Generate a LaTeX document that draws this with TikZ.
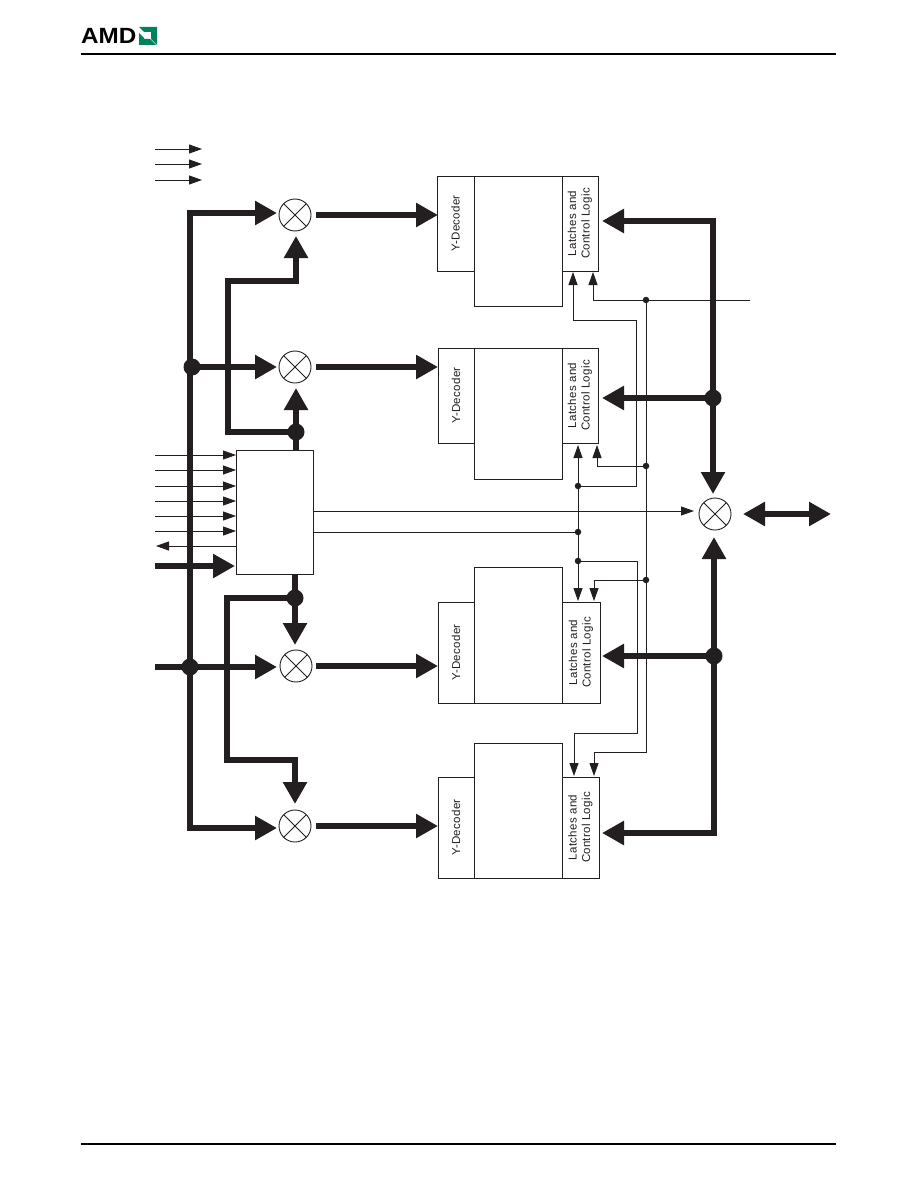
\documentclass[tikz,border=0pt]{standalone}
\usepackage{fontspec}
\setmainfont{Liberation Sans}
\newfontface\lblfont[LetterSpace=2.5]{Liberation Sans}
\usetikzlibrary{arrows.meta}
\definecolor{ink}{HTML}{231F20}
\definecolor{amdgreen}{HTML}{00835C}
\tikzset{
  x=1pt,y=-1pt,
  blk/.style={draw=ink,line width=.9pt,inner sep=0pt,outer sep=0pt,anchor=north west,fill=none},
  lbl/.style={rotate=90,font=\lblfont\fontsize{11.5}{13.5}\selectfont,text=ink,align=center,inner sep=0pt},
  mux/.style={circle,draw=ink,line width=.9pt,minimum size=32pt,inner sep=0pt,outer sep=0pt},
  bus/.style={draw=ink,line width=6pt,line cap=butt,line join=miter},
  busar/.style={bus,-{Triangle[length=22pt,width=23pt]}},
  busbi/.style={bus,{Triangle[length=22pt,width=23pt]}-{Triangle[length=22pt,width=23pt]}},
  wire/.style={draw=ink,line width=.9pt},
  wirear/.style={wire,-{Triangle[length=13pt,width=9pt]}},
  bigdot/.style={circle,fill=ink,minimum size=17pt,inner sep=0pt,outer sep=0pt},
  dot/.style={circle,fill=ink,minimum size=6.5pt,inner sep=0pt,outer sep=0pt},
  rule/.style={draw=black,line width=2pt},
}
\begin{document}
\begin{tikzpicture}
\useasboundingbox[fill=white] (0,0) rectangle (918,1188);
% header / footer
\coordinate (hl) at (81,54); \coordinate (hr) at (836,54);
\coordinate (fl) at (81,1144); \coordinate (fr) at (836,1144);
\draw[rule] (hl) -- (hr);
\draw[rule] (fl) -- (fr);
\node[inner sep=0pt,anchor=base west,font=\fontsize{22}{22}\bfseries\selectfont] (amd) at (81,44) {\addfontfeature{FakeStretch=1.1}AMD};
\fill[amdgreen] (139,27) -- (157,27) -- (157,45) -- (151,39) -- (151,32) -- (144,32) -- cycle;
\fill[amdgreen] (139,33) -- (144,38) -- (144,39) -- (150,39) -- (156,45) -- (139,45) -- cycle;
% legend
\coordinate (la) at (155,149); \coordinate (lat) at (202,149);
\coordinate (lb) at (155,164); \coordinate (lbt) at (202,164);
\coordinate (lc) at (155,180); \coordinate (lct) at (202,180);
\draw[wirear] (la) -- (lat);
\draw[wirear] (lb) -- (lbt);
\draw[wirear] (lc) -- (lct);
% bank A
\node[blk,minimum width=37pt,minimum height=95pt] (yA) at (437,176) {};
\node[blk,minimum width=88pt,minimum height=130pt] (cA) at (474,176) {};
\node[blk,minimum width=36pt,minimum height=95pt] (lA) at (562,176) {};
\node[lbl] (tyA) at (yA.center) {Y-Decoder};
\node[lbl] (tlA) at (lA.center) {Latches and\\Control Logic};
% bank B
\node[blk,minimum width=36pt,minimum height=95pt] (yB) at (438,348) {};
\node[blk,minimum width=88pt,minimum height=131pt] (cB) at (474,348) {};
\node[blk,minimum width=36pt,minimum height=95pt] (lB) at (562,348) {};
\node[lbl] (tyB) at (yB.center) {Y-Decoder};
\node[lbl] (tlB) at (lB.center) {Latches and\\Control Logic};
% bank C
\node[blk,minimum width=36pt,minimum height=101pt] (yC) at (438,602) {};
\node[blk,minimum width=88pt,minimum height=136pt] (cC) at (474,567) {};
\node[blk,minimum width=38pt,minimum height=101pt] (lC) at (562,602) {};
\node[lbl] (tyC) at (yC.center) {Y-Decoder};
\node[lbl] (tlC) at (lC.center) {Latches and\\Control Logic};
% bank D
\node[blk,minimum width=36pt,minimum height=101pt] (yD) at (438,777) {};
\node[blk,minimum width=88pt,minimum height=135pt] (cD) at (474,743) {};
\node[blk,minimum width=37pt,minimum height=101pt] (lD) at (562,777) {};
\node[lbl] (tyD) at (yD.center) {Y-Decoder};
\node[lbl] (tlD) at (lD.center) {Latches and\\Control Logic};
% control box
\node[blk,minimum width=77pt,minimum height=124pt] (ctl) at (236,450) {};
% muxes
\node[mux] (m1) at (295,215) {};
\node[mux] (m2) at (295,367) {};
\node[mux] (m3) at (296,666) {};
\node[mux] (m4) at (295,826) {};
\node[mux] (m5) at (715,514) {};
\foreach \m in {m1,m2,m3,m4,m5}{
  \draw[wire] (\m.45) -- (\m.225);
  \draw[wire] (\m.135) -- (\m.315);
}
% mux outputs
\coordinate (o1) at (316,215); \coordinate (t1) at (438,215);
\coordinate (o2) at (316,367); \coordinate (t2) at (438,367);
\coordinate (o3) at (316,666); \coordinate (t3) at (438,666);
\coordinate (o4) at (316,826); \coordinate (t4) at (438,826);
\draw[busar] (o1) -- (t1);
\draw[busar] (o2) -- (t2);
\draw[busar] (o3) -- (t3);
\draw[busar] (o4) -- (t4);
% left address bus
\node[bigdot] (j1) at (192,367) {};
\node[bigdot] (j2) at (190,667) {};
\coordinate (bt) at (277,213);
\coordinate (bb) at (277,828);
\coordinate (in3) at (155,667);
\coordinate (in3t) at (277,667);
\draw[busbi] (bt) -- (190,213) -- (190,828) -- (bb);
\coordinate (j1t) at (277,367);
\draw[busar] (j1.center) -- (j1t);
\draw[busar] (in3) -- (in3t);
% control to muxes, top
\node[bigdot] (j3) at (296,432) {};
\coordinate (m2t) at (296,388);
\coordinate (m1t) at (296,236);
\draw[busar] (ctl.north -| j3) -- (m2t);
\draw[busar] (j3.center) -- (228,432) -- (228,281) -- (296,281) -- (m1t);
% control to muxes, bottom
\node[bigdot] (j4) at (295,598) {};
\coordinate (m3t) at (295,645);
\coordinate (m4t) at (295,804);
\draw[busar] (ctl.south -| j4) -- (m3t);
\draw[busar] (j4.center) -- (227,598) -- (227,760) -- (295,760) -- (m4t);
% control inputs
\foreach \y/\n in {455/a,470/b,486/c,501/d,516/e,531/f}{
  \coordinate (cs\n) at (155,\y);
  \coordinate (ce\n) at (236,\y);
  \draw[wirear] (cs\n) -- (ce\n);
}
\coordinate (ro) at (236,546); \coordinate (rot) at (156,546);
\draw[wirear] (ro) -- (rot);
\coordinate (ad) at (155,566); \coordinate (adt) at (235,566);
\draw[busar] (ad) -- (adt);
% right data bus
\node[bigdot] (j5) at (713,398) {};
\node[bigdot] (j6) at (714,656) {};
\coordinate (lAt) at (602,221);
\coordinate (lBt) at (602,398);
\coordinate (lCt) at (602,656);
\coordinate (lDt) at (602,833);
\coordinate (m5t) at (713,494);
\coordinate (m5b) at (714,537);
\draw[busbi] (lAt) -- (m5t |- lAt) -- (m5t);
\draw[busar] (j5.center) -- (lBt);
\draw[busar] (j6.center) -- (lCt);
\draw[busbi] (m5b) -- (m5b |- lDt) -- (lDt);
\coordinate (d1) at (743,514); \coordinate (d2) at (831,514);
\draw[busbi] (d1) -- (d2);
% thin control lines: x=646
\node[dot] (k1) at (646,300) {};
\node[dot] (k2) at (646,466) {};
\node[dot] (k3) at (646,580) {};
\coordinate (w1) at (750,300);
\coordinate (aA2) at (593,272);
\coordinate (aB2) at (597,445);
\coordinate (aC2) at (594,601);
\coordinate (aD2) at (594,776);
\draw[wire] (w1) -- (k1.center);
\draw[wirear] (k1.center) -- (593,300) -- (aA2);
\draw[wirear] (k1.center) -- (646,752) -- (594,752) -- (aD2);
\draw[wirear] (k2.center) -- (597,466) -- (aB2);
\draw[wirear] (k3.center) -- (594,580) -- (aC2);
% thin control lines: x=636 / 578
\node[dot] (n1) at (578,486) {};
\node[dot] (n2) at (578,532) {};
\node[dot] (n3) at (578,561) {};
\coordinate (aA1) at (573,272);
\coordinate (aB1) at (578,445);
\coordinate (aC1) at (578,601);
\coordinate (aD1) at (574,776);
\draw[wirear] (n1.center) -- (636,486) -- (636,320) -- (573,320) -- (aA1);
\draw[wirear] (n1.center) -- (aB1);
\draw[wire] (n1.center) -- (n3.center);
\draw[wirear] (n3.center) -- (aC1);
\draw[wirear] (n3.center) -- (637,561) -- (637,733) -- (574,733) -- (aD1);
% control outputs
\coordinate (c5t) at (694,511);
\draw[wirear] (ctl.east |- c5t) -- (c5t);
\draw[wire] (ctl.east |- n2) -- (n2.center);
\end{tikzpicture}
\end{document}
